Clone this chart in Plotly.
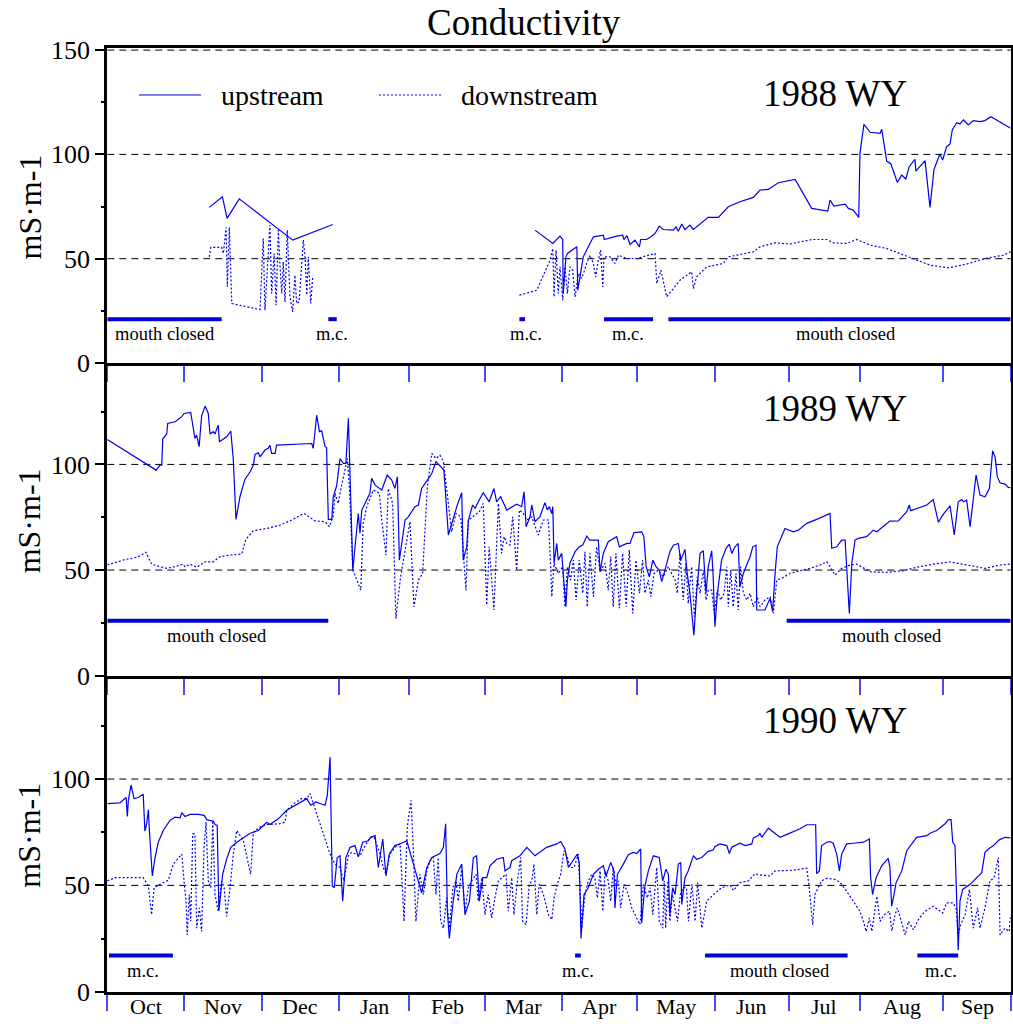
import plotly.graph_objects as go

FONT = "Liberation Serif, Times New Roman, serif"
W, H = 1013, 1024

# ---- data: (day of water year, conductivity mS/m); None marks a gap in the record ----
UP_1988 = [(41.2, 74.6), (46.5, 79.7), (48.4, 69.3), (53.3, 78.7), (74.9, 58.9), (91.1, 66.4),
           (None, None),
           (172.8, 63.7), (180.0, 57.3), (182.9, 60.8), (184.0, 59.2), (184.2, 33.3), (185.3, 50.9),
           (185.9, 52.5), (189.7, 55.7), (190.1, 34.9), (192.3, 50.9), (196.4, 60.5), (200.4, 61.3),
           (200.8, 59.2), (203.1, 60.0), (205.8, 60.8), (208.2, 61.3), (208.8, 59.2), (209.9, 61.1),
           (211.2, 56.8), (213.2, 58.9), (215.0, 55.7), (215.5, 59.2), (217.9, 59.2), (219.6, 60.5),
           (221.3, 62.1), (223.0, 65.6), (224.6, 64.0), (228.7, 63.7), (229.8, 65.3), (230.7, 63.2),
           (232.1, 66.6), (233.4, 64.0), (235.4, 66.1), (236.8, 64.0), (242.8, 69.8), (246.9, 69.8),
           (250.9, 74.9), (255.6, 77.3), (261.0, 79.4), (263.7, 82.9), (267.1, 83.2), (271.1, 86.4),
           (277.9, 88.0), (284.6, 74.1), (291.1, 72.8), (292.0, 78.1), (293.6, 75.2), (298.1, 76.2),
           (299.4, 74.1), (301.4, 73.3), (303.6, 69.8), (304.1, 100.5), (305.7, 114.4), (308.2, 110.6),
           (312.2, 110.1), (312.9, 112.0), (314.9, 96.8), (316.6, 95.4), (319.2, 86.6), (321.0, 90.1),
           (322.6, 88.2), (324.0, 94.1), (326.3, 97.6), (326.7, 92.0), (330.4, 97.0), (332.4, 74.6),
           (334.0, 92.8), (336.4, 100.2), (337.5, 97.3), (339.1, 103.7), (340.5, 105.0), (341.4, 111.7),
           (343.2, 115.2), (344.5, 114.6), (345.9, 116.5), (347.9, 114.1), (349.9, 116.2), (352.6, 115.7),
           (354.6, 116.2), (357.0, 118.1), (365.0, 112.5)]

DN_1988 = [(41.2, 50.9), (41.8, 55.4), (46.2, 55.4), (46.9, 52.5), (48.0, 65.0), (48.5, 36.5),
           (49.3, 65.0), (50.3, 28.5), (61.7, 25.6), (63.0, 59.7), (63.7, 25.3), (64.4, 38.1),
           (65.7, 66.1), (66.4, 33.3), (67.4, 52.5), (68.2, 27.7), (69.1, 63.7), (69.8, 46.1),
           (70.5, 33.3), (71.1, 48.5), (71.8, 29.3), (72.7, 63.7), (73.8, 31.7), (74.9, 24.5),
           (75.8, 42.1), (76.5, 28.5), (77.5, 29.3), (79.2, 58.9), (79.9, 50.9), (80.6, 32.5),
           (81.2, 50.9), (82.2, 28.5), (83.0, 41.3),
           (None, None),
           (166.5, 32.5), (173.5, 34.9), (178.9, 49.3), (180.0, 54.9), (180.5, 31.7), (181.3, 54.1),
           (182.2, 33.3), (182.9, 46.1), (184.0, 30.1), (184.9, 46.1), (185.9, 33.3), (186.9, 46.1),
           (188.0, 44.5), (189.0, 31.7), (190.3, 42.9), (191.7, 40.5), (193.7, 47.7), (195.0, 51.7),
           (196.4, 47.7), (197.3, 41.3), (198.4, 49.3), (199.3, 54.1), (200.2, 36.5), (200.7, 50.9),
           (203.1, 50.9), (205.1, 47.7), (206.5, 51.7), (209.9, 50.1), (213.9, 50.1), (216.6, 50.9),
           (221.3, 52.5), (222.0, 38.1), (223.7, 44.5), (226.0, 31.7), (229.4, 36.5), (231.4, 39.7),
           (236.1, 43.7), (236.8, 35.7), (238.1, 41.3), (242.2, 46.1), (248.9, 47.7), (250.9, 50.9),
           (261.0, 53.3), (263.7, 55.7), (269.8, 57.6), (275.8, 57.0), (284.6, 59.2), (290.7, 59.2),
           (293.3, 57.6), (298.7, 57.3), (302.8, 59.2), (308.2, 56.5), (314.9, 54.9), (320.3, 52.5),
           (327.0, 49.3), (332.4, 46.9), (339.8, 45.6), (347.2, 47.4), (354.6, 50.1), (362.0, 51.7),
           (365.0, 53.3)]

UP_1989 = [(0.0, 111.8), (19.7, 97.3), (21.3, 99.7), (22.0, 99.7), (22.4, 112.0), (24.0, 114.4),
           (24.4, 119.4), (27.4, 120.2), (30.1, 122.6), (31.0, 124.1), (33.7, 124.6), (35.4, 112.3),
           (36.1, 113.9), (37.1, 108.4), (38.1, 122.9), (39.5, 127.6), (40.8, 124.1), (41.5, 114.4),
           (42.8, 115.5), (43.5, 114.4), (44.8, 118.6), (45.3, 110.7), (48.2, 113.1), (49.9, 115.8),
           (50.9, 102.4), (52.0, 74.0), (53.6, 84.7), (55.6, 92.9), (57.7, 96.5), (59.0, 99.7),
           (59.7, 104.7), (61.0, 105.5), (61.7, 103.6), (63.7, 106.8), (65.0, 107.6), (65.7, 109.1),
           (66.4, 105.2), (67.8, 105.2), (68.4, 109.1), (82.6, 109.9), (83.2, 107.6), (84.6, 123.3),
           (85.7, 115.5), (86.6, 115.9), (88.0, 108.4), (88.6, 108.0), (89.3, 74.0), (90.7, 74.0),
           (91.3, 84.7), (92.7, 90.0), (94.0, 102.8), (95.4, 100.5), (96.4, 100.5), (97.4, 121.8),
           (99.2, 50.0), (101.4, 76.8), (102.1, 67.4), (102.8, 78.4), (106.1, 86.3), (106.8, 93.4),
           (108.2, 90.2), (110.9, 87.9), (113.1, 95.0), (114.9, 92.6), (116.2, 88.6), (117.2, 94.2),
           (118.0, 54.7), (120.3, 73.7), (121.6, 75.2), (124.3, 80.0), (125.7, 80.8), (127.0, 88.6),
           (128.4, 91.0), (129.7, 93.4), (131.1, 95.7), (132.8, 101.3), (134.4, 99.2), (136.0, 97.3),
           (137.8, 66.6), (139.1, 72.1), (141.2, 80.0), (143.2, 86.6), (143.8, 54.7), (145.2, 61.0),
           (145.9, 73.7), (147.6, 80.8), (148.6, 79.2), (149.9, 82.3), (151.9, 86.6), (154.3, 82.3),
           (156.2, 88.6), (157.3, 82.3), (158.9, 84.7), (161.4, 78.4), (163.4, 80.0), (165.4, 81.2),
           (167.4, 80.0), (168.4, 87.1), (169.2, 70.5), (170.8, 75.2), (171.5, 80.8), (172.8, 72.9),
           (174.8, 75.2), (176.8, 81.9), (177.8, 78.4), (178.6, 80.0), (179.6, 76.8), (180.0, 80.0),
           (180.5, 53.2), (181.6, 62.6), (182.2, 54.7), (183.6, 57.9), (184.2, 48.4), (185.3, 32.6),
           (185.9, 45.3), (186.9, 53.2), (189.0, 58.7), (190.7, 61.0), (192.1, 61.8), (193.7, 66.1),
           (195.0, 64.2), (198.4, 64.2), (199.1, 49.2), (200.4, 57.9), (202.4, 63.4), (205.8, 65.8),
           (206.9, 61.0), (209.9, 62.6), (211.2, 62.6), (212.8, 67.7), (215.9, 68.1), (216.8, 65.8),
           (217.7, 51.6), (219.0, 46.8), (220.4, 54.7), (221.7, 51.6), (223.0, 50.0), (224.0, 44.5),
           (225.3, 50.0), (227.3, 58.7), (228.7, 61.8), (230.7, 62.6), (231.7, 54.7), (233.4, 59.8),
           (234.3, 48.4), (235.4, 39.0), (237.0, 19.2), (238.1, 39.0), (239.5, 57.9), (240.8, 59.1),
           (241.9, 39.0), (242.8, 51.6), (244.2, 59.1), (244.8, 46.8), (245.5, 23.2), (246.5, 39.0),
           (248.2, 54.7), (250.0, 60.3), (251.3, 62.3), (252.3, 57.9), (253.6, 61.0), (254.9, 62.6),
           (255.6, 42.1), (257.0, 48.4), (258.6, 53.2), (259.7, 56.3), (260.8, 61.0), (262.1, 61.8),
           (262.4, 31.1), (265.7, 31.1), (267.8, 36.6), (268.8, 30.3), (269.8, 48.4), (270.7, 61.0),
           (273.8, 69.7), (277.2, 68.1), (279.2, 68.9), (282.6, 72.1), (286.6, 74.0), (292.0, 76.8),
           (292.7, 60.3), (294.7, 61.0), (296.7, 64.2), (298.1, 64.2), (299.8, 29.5), (300.8, 53.2),
           (302.1, 64.2), (303.4, 65.0), (306.8, 65.8), (309.5, 68.9), (310.9, 68.1), (316.2, 73.2),
           (319.6, 73.3), (323.0, 77.6), (324.0, 80.8), (324.6, 78.1), (331.1, 80.8), (333.7, 83.4),
           (335.8, 72.6), (337.8, 76.5), (340.5, 80.4), (342.2, 66.6), (343.8, 82.3), (345.2, 83.4),
           (345.9, 82.3), (347.2, 83.1), (348.6, 70.5), (351.0, 95.0), (352.6, 85.5), (354.6, 84.7),
           (356.4, 88.6), (357.7, 106.5), (358.7, 103.6), (359.6, 94.2), (360.7, 91.3), (362.7, 90.7),
           (364.0, 89.1), (365.0, 89.0)]

DN_1989 = [(0.0, 52.4), (3.8, 53.9), (7.2, 55.0), (9.9, 55.5), (12.5, 56.3), (15.6, 58.4),
           (17.9, 52.8), (21.3, 51.6), (24.0, 50.8), (27.4, 51.6), (30.5, 52.8), (31.4, 51.6),
           (33.4, 52.8), (36.1, 51.3), (39.5, 53.9), (42.8, 53.9), (45.5, 56.3), (49.6, 57.1),
           (54.3, 57.6), (56.0, 64.5), (59.0, 68.6), (64.4, 69.7), (69.8, 71.3), (73.8, 73.3),
           (79.5, 76.8), (83.9, 73.3), (88.0, 72.9), (89.7, 70.5), (91.3, 75.6), (92.0, 86.3),
           (93.3, 81.5), (94.0, 86.3), (96.0, 97.3), (97.0, 102.8), (97.8, 89.4), (99.2, 50.0),
           (102.4, 40.5), (103.4, 72.1), (104.8, 80.0), (107.5, 87.9), (109.9, 86.3), (110.9, 73.7),
           (112.6, 57.1), (113.5, 88.6), (115.3, 81.5), (116.6, 27.1), (118.5, 46.8), (122.3, 72.9),
           (123.9, 32.6), (125.7, 45.3), (127.4, 48.4), (129.3, 89.4), (131.1, 105.2), (132.8, 102.8),
           (134.4, 104.4), (135.8, 101.3), (137.8, 81.5), (139.1, 68.1), (140.9, 76.8), (142.8, 75.2),
           (144.9, 40.5), (145.9, 73.7), (147.6, 75.2), (150.3, 77.6), (151.9, 81.5), (153.3, 33.4),
           (154.3, 61.0), (156.2, 31.1), (158.0, 81.5), (159.3, 57.9), (160.3, 65.8), (161.4, 62.6),
           (162.7, 61.8), (163.8, 75.2), (165.4, 50.0), (166.5, 78.4), (168.1, 76.8), (169.5, 73.7),
           (171.5, 75.2), (174.1, 66.6), (176.2, 73.7), (178.2, 73.7), (178.9, 57.9), (179.6, 37.4),
           (180.5, 53.2), (182.2, 48.4), (184.0, 51.6), (184.9, 32.6), (185.9, 51.6), (187.2, 45.3),
           (188.3, 54.7), (189.4, 35.8), (190.7, 54.7), (192.1, 39.0), (193.0, 58.7), (193.9, 32.6),
           (195.0, 57.9), (196.4, 37.4), (197.7, 61.0), (199.1, 49.2), (201.1, 53.2), (202.4, 40.5),
           (203.4, 56.3), (204.4, 32.6), (205.5, 57.9), (206.9, 31.9), (208.2, 57.9), (209.6, 32.6),
           (210.9, 59.5), (212.3, 29.5), (213.6, 54.7), (215.0, 39.0), (216.3, 54.7), (217.2, 39.0),
           (218.6, 45.3), (219.6, 37.4), (220.9, 48.4), (222.6, 50.0), (224.6, 46.8), (226.7, 51.6),
           (227.3, 50.0), (229.4, 45.3), (230.3, 39.0), (231.4, 57.9), (232.7, 35.8), (233.8, 53.2),
           (234.7, 34.2), (236.1, 51.6), (237.2, 27.9), (238.4, 46.8), (239.5, 39.0), (240.8, 50.0),
           (241.9, 35.8), (242.8, 40.5), (244.2, 40.5), (245.2, 29.5), (246.5, 40.5), (247.8, 35.8),
           (249.2, 39.0), (250.3, 51.6), (250.9, 32.6), (251.9, 50.0), (252.9, 32.6), (254.0, 48.4),
           (254.9, 31.1), (255.9, 51.6), (257.0, 39.0), (258.4, 35.8), (259.7, 39.0), (261.0, 32.6),
           (262.6, 37.4), (263.7, 32.6), (265.7, 35.8), (267.8, 37.4), (269.1, 29.5), (270.5, 45.3),
           (272.5, 46.1), (275.8, 48.4), (279.9, 49.7), (283.9, 50.8), (288.0, 52.4), (290.7, 53.9),
           (292.0, 51.6), (294.0, 47.6), (296.7, 50.8), (300.1, 52.4), (302.8, 52.8), (308.2, 49.2),
           (314.9, 48.9), (321.6, 49.7), (327.0, 51.3), (333.7, 52.8), (340.5, 53.9), (347.2, 52.4),
           (354.6, 50.8), (360.7, 52.4), (365.0, 52.8)]

UP_1990 = [(0.0, 88.4), (5.1, 88.8), (7.6, 91.3), (8.1, 82.4), (8.5, 90.0), (9.6, 97.2),
           (10.8, 90.8), (12.5, 91.3), (14.5, 92.9), (15.2, 75.5), (15.9, 79.0), (16.6, 85.6),
           (17.0, 75.8), (18.2, 54.4), (19.3, 63.1), (20.6, 70.3), (22.6, 75.8), (25.3, 80.5),
           (27.4, 82.1), (29.4, 81.8), (30.1, 84.2), (31.4, 82.4), (33.4, 83.4), (36.8, 83.4),
           (39.1, 82.9), (40.2, 80.9), (42.8, 80.2), (43.5, 78.6), (44.4, 78.2), (45.1, 38.1),
           (45.8, 45.7), (46.6, 55.2), (48.2, 62.3), (49.9, 67.9), (52.3, 70.3), (55.0, 72.6),
           (57.7, 74.5), (61.0, 75.8), (64.4, 79.7), (65.7, 78.6), (69.1, 81.3), (72.5, 85.3),
           (75.2, 87.2), (78.5, 89.7), (80.6, 90.8), (82.2, 87.7), (84.3, 89.2), (86.2, 88.4),
           (88.0, 87.7), (88.9, 92.4), (90.0, 110.3), (90.9, 49.7), (91.7, 48.9), (92.9, 63.1),
           (94.0, 63.9), (95.1, 42.6), (96.4, 63.1), (98.1, 67.9), (100.1, 68.7), (101.4, 63.4),
           (103.2, 70.3), (105.5, 71.0), (106.4, 72.6), (108.2, 73.4), (109.5, 58.4), (111.3, 71.8),
           (112.6, 54.4), (113.9, 64.7), (116.2, 68.7), (118.9, 69.8), (121.0, 71.0), (127.0, 46.5),
           (129.1, 58.4), (131.1, 63.1), (134.4, 65.0), (135.8, 67.9), (136.7, 79.0), (137.4, 37.7),
           (138.2, 25.0), (139.6, 41.0), (141.2, 55.2), (143.2, 60.0), (144.5, 36.2), (146.3, 42.6),
           (147.9, 63.1), (149.2, 63.9), (150.3, 42.6), (151.7, 53.6), (153.3, 53.6), (154.6, 59.2),
           (157.3, 62.3), (160.0, 63.1), (160.7, 56.8), (162.7, 58.4), (163.4, 61.6), (166.7, 63.9),
           (169.5, 67.9), (170.8, 66.3), (172.8, 63.9), (177.5, 67.9), (181.6, 69.5), (183.2, 70.6),
           (184.9, 67.1), (186.3, 58.4), (187.6, 60.8), (189.9, 64.7), (190.7, 60.3), (191.4, 25.0),
           (192.6, 45.7), (194.3, 48.9), (196.4, 55.2), (198.4, 57.6), (200.4, 59.2), (201.5, 54.4),
           (203.4, 60.8), (204.7, 56.8), (205.1, 39.4), (206.1, 55.2), (208.5, 60.0), (210.5, 64.4),
           (212.5, 65.5), (213.9, 65.0), (215.5, 67.1), (215.9, 32.3), (217.2, 49.7), (218.6, 56.8),
           (220.6, 63.9), (223.0, 63.1), (224.4, 52.1), (225.7, 57.6), (226.7, 55.2), (227.3, 36.2),
           (228.4, 48.9), (229.4, 45.7), (230.7, 60.0), (231.7, 60.8), (232.1, 41.0), (233.4, 53.6),
           (234.7, 56.8), (236.8, 63.9), (238.1, 62.3), (240.2, 63.1), (242.8, 66.0), (244.8, 66.6),
           (245.5, 68.2), (247.5, 69.5), (250.3, 68.7), (251.3, 65.0), (252.3, 67.9), (255.6, 69.8),
           (257.7, 68.7), (260.4, 69.5), (261.0, 72.3), (263.0, 73.4), (263.7, 74.5), (264.4, 72.6),
           (267.1, 76.9), (269.8, 74.2), (271.8, 72.6), (275.1, 74.2), (279.9, 76.6), (282.6, 78.5),
           (286.2, 78.5), (286.6, 55.5), (287.7, 56.8), (288.6, 68.7), (290.7, 70.3), (292.0, 70.6),
           (293.3, 69.8), (294.7, 64.7), (295.8, 56.8), (296.7, 64.7), (298.7, 69.5), (301.4, 69.8),
           (305.5, 70.3), (307.9, 71.8), (308.4, 54.0), (309.2, 45.7), (310.6, 53.6), (312.9, 59.2),
           (315.5, 62.7), (316.2, 58.4), (316.9, 40.2), (317.6, 44.1), (318.7, 51.3), (321.0, 56.8),
           (323.0, 66.3), (327.0, 72.6), (331.1, 73.4), (332.4, 74.5), (335.1, 75.8), (338.5, 79.0),
           (339.8, 80.9), (340.9, 80.9), (341.6, 70.3), (342.5, 68.7), (343.8, 19.6), (344.5, 42.6),
           (345.6, 48.1), (348.6, 50.5), (353.3, 56.0), (354.6, 65.5), (356.0, 67.1), (358.0, 68.7),
           (359.6, 70.3), (360.4, 71.4), (362.7, 72.6), (365.0, 72.3)]

DN_1990 = [(0.0, 52.1), (3.1, 53.6), (14.5, 53.6), (16.6, 49.7), (17.9, 36.2), (18.9, 48.9),
           (21.3, 50.5), (24.6, 52.4), (26.7, 60.0), (30.1, 64.7), (31.0, 52.1), (31.8, 42.6),
           (32.3, 26.7), (33.1, 45.7), (33.7, 33.1), (34.5, 74.2), (35.4, 74.2), (36.1, 29.9),
           (37.2, 39.4), (38.1, 28.3), (39.1, 67.9), (39.9, 79.7), (40.8, 52.1), (41.8, 48.9),
           (42.6, 80.5), (43.5, 45.7), (44.8, 37.8), (46.2, 52.1), (47.2, 48.9), (48.2, 35.4),
           (49.6, 48.9), (50.9, 64.7), (52.3, 75.8), (55.0, 71.0), (57.9, 55.2), (59.0, 75.0),
           (61.7, 77.4), (64.4, 78.6), (69.8, 79.0), (71.8, 79.7), (72.5, 85.3), (75.8, 88.8),
           (78.5, 90.8), (80.6, 90.8), (81.9, 93.2), (83.9, 86.1), (85.9, 79.7), (90.0, 64.7),
           (92.0, 60.0), (94.0, 58.4), (95.6, 52.1), (97.4, 63.9), (98.7, 65.5), (100.8, 64.7),
           (102.1, 63.9), (103.4, 67.1), (106.1, 72.6), (107.8, 72.6), (110.2, 64.7), (111.5, 58.4),
           (112.6, 55.2), (114.2, 64.7), (116.2, 67.9), (118.3, 69.5), (119.9, 33.1), (121.2, 77.4),
           (122.7, 90.0), (123.6, 67.9), (124.7, 33.1), (126.3, 55.2), (127.7, 45.7), (129.1, 56.8),
           (130.4, 61.6), (131.7, 63.1), (132.8, 45.7), (133.7, 63.1), (134.7, 33.1), (135.8, 29.9),
           (137.1, 44.1), (138.2, 29.9), (139.6, 48.9), (140.9, 52.1), (141.8, 42.6), (143.2, 58.4),
           (144.5, 37.8), (145.9, 48.9), (147.2, 52.1), (149.0, 55.2), (149.9, 42.6), (151.3, 53.6),
           (152.6, 36.2), (153.9, 45.7), (155.3, 34.7), (156.6, 44.1), (158.0, 52.1), (159.4, 53.6),
           (161.1, 55.2), (162.0, 37.8), (163.4, 53.6), (164.3, 36.2), (165.7, 52.1), (167.0, 63.1),
           (167.8, 33.1), (169.2, 31.5), (170.5, 50.5), (171.5, 52.1), (172.4, 60.0), (173.5, 36.2),
           (174.5, 50.5), (176.2, 45.7), (178.2, 36.2), (179.6, 33.9), (180.5, 44.1), (181.8, 50.5),
           (183.2, 55.2), (184.5, 66.3), (185.9, 63.1), (186.9, 58.4), (188.6, 58.4), (190.3, 64.7),
           (191.7, 29.9), (193.0, 45.7), (194.3, 52.1), (195.7, 55.2), (197.0, 53.6), (198.0, 44.1),
           (199.1, 56.8), (200.2, 37.8), (201.1, 56.8), (202.4, 52.1), (203.4, 42.6), (204.4, 58.4),
           (205.5, 50.5), (206.5, 52.1), (207.4, 39.4), (208.8, 50.5), (210.5, 45.7), (211.9, 39.4),
           (213.2, 36.2), (215.2, 31.5), (216.6, 50.5), (218.2, 44.1), (219.3, 48.9), (220.4, 36.2),
           (222.0, 58.4), (223.0, 33.1), (224.4, 29.9), (225.0, 52.1), (225.6, 29.9), (226.5, 52.1),
           (227.3, 33.1), (228.3, 45.7), (229.6, 37.8), (230.4, 33.1), (231.5, 45.7), (232.8, 48.9),
           (234.0, 48.9), (234.8, 33.1), (236.2, 50.5), (237.5, 33.1), (238.5, 51.3), (240.2, 29.9),
           (242.2, 42.6), (244.9, 45.7), (248.2, 48.9), (251.6, 50.2), (253.0, 47.6), (255.6, 51.3),
           (259.0, 52.1), (261.7, 55.5), (263.7, 54.9), (267.8, 54.4), (269.8, 56.8), (277.2, 57.1),
           (282.6, 58.1), (283.6, 48.9), (285.0, 31.5), (285.9, 45.7), (288.6, 52.1), (290.7, 53.3),
           (294.0, 52.8), (296.1, 51.3), (298.7, 47.3), (301.4, 42.6), (304.1, 37.8), (305.5, 33.1),
           (306.6, 28.3), (307.9, 34.7), (308.9, 28.3), (310.9, 44.9), (312.2, 33.1), (313.9, 36.2),
           (316.0, 37.8), (317.0, 28.6), (318.3, 36.2), (319.2, 39.4), (321.0, 31.5), (322.4, 26.7),
           (323.7, 33.1), (325.7, 29.1), (327.7, 33.9), (330.4, 37.8), (333.7, 40.2), (337.5, 37.0),
           (339.1, 41.8), (341.6, 41.8), (342.9, 39.4), (343.8, 26.7), (344.8, 31.5), (346.6, 36.2),
           (348.3, 48.1), (349.9, 29.9), (351.6, 39.4), (352.6, 29.9), (354.6, 39.4), (356.6, 52.1),
           (358.3, 53.6), (360.0, 63.1), (360.7, 26.7), (362.7, 29.9), (364.4, 28.3), (365.0, 36.2)]

# periods with the river mouth closed: (first day, last day, label, label centre day)
CLOSED_1988 = [(0.0, 46.2, "mouth closed", 23.4), (89.3, 92.7, "m.c.", 90.6),
               (166.5, 168.8, "m.c.", 169.2), (200.7, 220.5, "m.c.", 210.3),
               (226.7, 365.0, "mouth closed", 298.6)]
CLOSED_1989 = [(0.0, 89.3, "mouth closed", 44.3), (274.5, 365.0, "mouth closed", 317.0)]
CLOSED_1990 = [(0.7, 26.5, "m.c.", 14.4), (189.0, 191.3, "m.c.", 190.0),
               (241.5, 299.1, "mouth closed", 271.8), (327.3, 343.8, "m.c.", 336.8)]
CLOSED_LEVEL = [21, 26, 17]

YEARS = ["1988 WY", "1989 WY", "1990 WY"]
MONTHS = ["Oct", "Nov", "Dec", "Jan", "Feb", "Mar", "Apr", "May", "Jun", "Jul", "Aug", "Sep"]
MONTH_EDGES = [0, 31.0, 62.4, 93.7, 122.0, 152.5, 183.8, 214.1, 245.5, 275.4, 304.1, 337.8, 365]

# ---- page geometry (pixels) ----
PLOT_L, PLOT_R = 107.3, 1010.7
PANEL_PX = [(48, 363, 151), (363, 675.7, 148), (675.7, 991.7, 148.6)]  # top, bottom, y max
YTICKS = [[0, 50, 100, 150], [0, 50, 100], [0, 50, 100]]
GRID = [[50, 100, 150], [50, 100], [50, 100]]

BLUE = "#0000f0"
BAR_BLUE = "#0000d8"
TICK_BLUE = "#4a4af2"


def px_x(p):
    return p / W


def px_y(p):
    return 1 - p / H


def split(pairs):
    xs = [p[0] for p in pairs]
    ys = [p[1] for p in pairs]
    return xs, ys


fig = go.Figure()
series = [(UP_1988, DN_1988, CLOSED_1988), (UP_1989, DN_1989, CLOSED_1989),
          (UP_1990, DN_1990, CLOSED_1990)]

annotations = []
shapes = []

for i, (up, dn, closed) in enumerate(series):
    n = i + 1
    xa = "x" if n == 1 else f"x{n}"
    ya = "y" if n == 1 else f"y{n}"
    top, bot, ymax = PANEL_PX[i]

    ux, uy = split(up)
    fig.add_trace(go.Scatter(x=ux, y=uy, mode="lines", xaxis=xa, yaxis=ya,
                             line=dict(color=BLUE, width=1.2), connectgaps=False,
                             showlegend=False, hoverinfo="skip"))
    dx, dy = split(dn)
    fig.add_trace(go.Scatter(x=dx, y=dy, mode="lines", xaxis=xa, yaxis=ya,
                             line=dict(color=BLUE, width=1.2, dash="2px,2px"),
                             connectgaps=False, showlegend=False, hoverinfo="skip"))

    # mouth-closed bars
    bx, by = [], []
    lev = CLOSED_LEVEL[i]
    for s, e, lab, lx in closed:
        bx += [s, e, None]
        by += [lev, lev, None]
        annotations.append(dict(x=lx, y=lev, xref=xa, yref=ya, text=lab,
                                showarrow=False, yanchor="middle", yshift=-15,
                                font=dict(family=FONT, size=18.5, color="black")))
    fig.add_trace(go.Scatter(x=bx, y=by, mode="lines", xaxis=xa, yaxis=ya,
                             line=dict(color=BAR_BLUE, width=4), showlegend=False,
                             hoverinfo="skip"))

    # dashed reference lines
    for g in GRID[i]:
        shapes.append(dict(type="line", xref=f"{xa} domain", x0=0, x1=1, yref=ya, y0=g, y1=g,
                           line=dict(color="black", width=1, dash="7px,5px"), layer="below"))

    fig.update_layout(**{
        ("xaxis" if n == 1 else f"xaxis{n}"): dict(
            domain=[px_x(PLOT_L), px_x(PLOT_R)], range=[0, 365], anchor=ya,
            tickmode="array", tickvals=MONTH_EDGES, ticks="outside", ticklen=16,
            tickwidth=2, tickcolor=TICK_BLUE, showticklabels=False, automargin=False,
            showline=True, linewidth=3, linecolor="black", mirror=(n == 1),
            showgrid=False, zeroline=False, fixedrange=True),
        ("yaxis" if n == 1 else f"yaxis{n}"): dict(
            domain=[px_y(bot), px_y(top)], range=[0, ymax], anchor=xa,
            tickmode="array", tickvals=YTICKS[i], ticks="outside", ticklen=9,
            tickwidth=1.5, tickcolor="black", automargin=False,
            tickfont=dict(family=FONT, size=26, color="black"),
            minor=dict(tickmode="array", tickvals=[25, 75, 125], ticks="outside",
                       ticklen=3, tickcolor="black", showgrid=False),
            showline=True, linewidth=3, linecolor="black", mirror=True,
            showgrid=False, zeroline=False, fixedrange=True),
    })

    # year label and axis title
    annotations.append(dict(x=px_x(835), y=px_y(top + 45), xref="paper", yref="paper",
                            text=YEARS[i], showarrow=False, xanchor="center", yanchor="middle",
                            font=dict(family=FONT, size=37, color="black")))
    annotations.append(dict(x=px_x(29), y=px_y((top + bot) / 2 + 2), xref="paper", yref="paper",
                            text="mS·m-1", textangle=-90, showarrow=False,
                            xanchor="center", yanchor="middle",
                            font=dict(family=FONT, size=32, color="black")))

# month names centred between month boundaries on the bottom panel
for k, m in enumerate(MONTHS):
    annotations.append(dict(x=(MONTH_EDGES[k] + MONTH_EDGES[k + 1]) / 2, y=px_y(1006),
                            xref="x3", yref="paper", text=m, showarrow=False,
                            xanchor="center", yanchor="middle",
                            font=dict(family=FONT, size=22, color="black")))

# title
annotations.append(dict(x=px_x(524), y=px_y(22), xref="paper", yref="paper",
                        text="Conductivity", showarrow=False, xanchor="center",
                        yanchor="middle", font=dict(family=FONT, size=37, color="black")))

# legend
shapes.append(dict(type="line", xref="paper", yref="paper", x0=px_x(139), x1=px_x(201),
                   y0=px_y(95), y1=px_y(95), line=dict(color=BLUE, width=1.2)))
shapes.append(dict(type="line", xref="paper", yref="paper", x0=px_x(379), x1=px_x(441),
                   y0=px_y(95), y1=px_y(95), line=dict(color=BLUE, width=1.2, dash="2px,2px")))
annotations.append(dict(x=px_x(219), y=px_y(95), xref="paper", yref="paper", text="upstream",
                        showarrow=False, xanchor="left", yanchor="middle",
                        font=dict(family=FONT, size=28, color="black")))
annotations.append(dict(x=px_x(459), y=px_y(95), xref="paper", yref="paper", text="downstream",
                        showarrow=False, xanchor="left", yanchor="middle",
                        font=dict(family=FONT, size=28, color="black")))

fig.update_layout(width=W, height=H, margin=dict(l=0, r=0, t=0, b=0, autoexpand=False),
                  paper_bgcolor="white", plot_bgcolor="white",
                  annotations=annotations, shapes=shapes, showlegend=False)

fig.write_html("out.html", config={"displayModeBar": False})
